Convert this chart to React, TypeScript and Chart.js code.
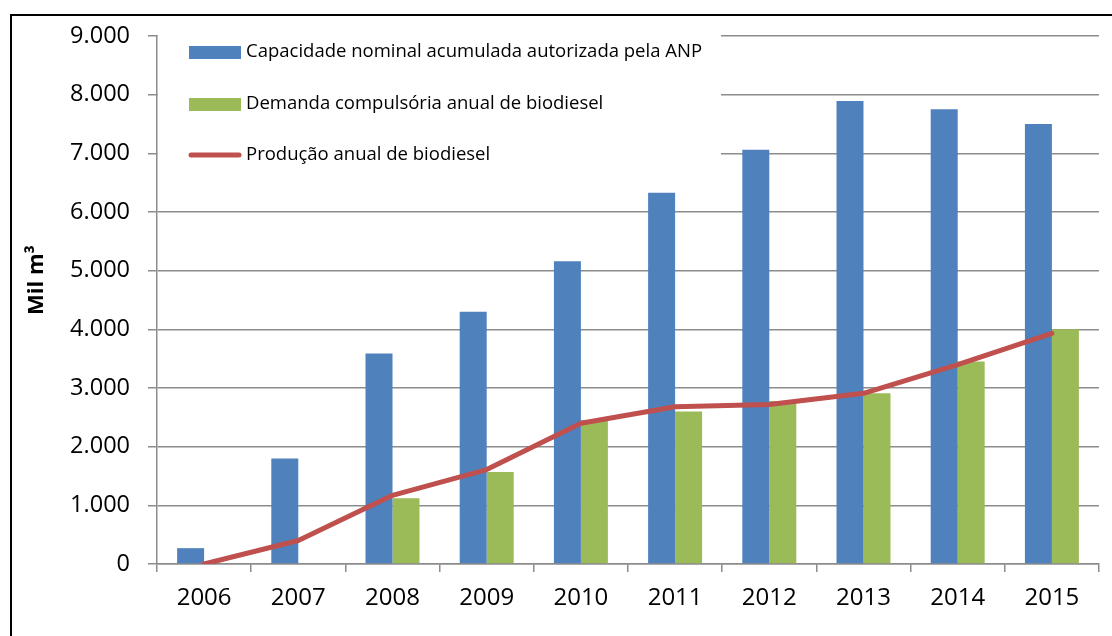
import React, { useEffect, useRef } from "react";
import { Chart, registerables } from "chart.js";

Chart.register(...registerables);

const years = ["2006", "2007", "2008", "2009", "2010", "2011", "2012", "2013", "2014", "2015"];
const capacidade = [270, 1800, 3590, 4300, 5160, 6330, 7060, 7890, 7750, 7500];
const demanda = [null, null, 1120, 1570, 2450, 2600, 2780, 2910, 3450, 4000];
const producao = [0, 400, 1170, 1610, 2400, 2680, 2720, 2910, 3400, 3930];

const labelCapacidade = "Capacidade nominal acumulada autorizada pela ANP";
const labelDemanda = "Demanda compulsória anual de biodiesel";
const labelProducao = "Produção anual de biodiesel";
const yTitle = "Mil m³";

const FONT = "'Open Sans', 'Noto Sans', sans-serif";
const GRID = "#8c8c8c";

const legendPlugin = {
  id: "customLegend",
  beforeDatasetsDraw(chart: any) {
    const ctx = chart.ctx;
    const area = chart.chartArea;
    ctx.save();
    ctx.fillStyle = "#ffffff";
    ctx.fillRect(area.left + 1, 20, 721 - area.left - 1, 160);
    const ds = chart.data.datasets;
    const rows = [52, 104, 155];
    ds.forEach((d: any, i: number) => {
      const y = rows[i];
      if (d.type === "line") {
        ctx.strokeStyle = d.borderColor;
        ctx.lineWidth = 5;
        ctx.lineCap = "round";
        ctx.beginPath();
        ctx.moveTo(191, y);
        ctx.lineTo(239, y);
        ctx.stroke();
      } else {
        ctx.fillStyle = d.backgroundColor;
        ctx.fillRect(189, y - 6, 52, 13);
      }
      ctx.fillStyle = "#000";
      ctx.font = `18.5px ${FONT}`;
      ctx.textBaseline = "middle";
      ctx.textAlign = "left";
      ctx.fillText(d.label, 246, y);
    });
    ctx.restore();
  },
  afterDraw(chart: any) {
    const ctx = chart.ctx;
    ctx.save();
    ctx.translate(37, 280);
    ctx.rotate(-Math.PI / 2);
    ctx.fillStyle = "#000";
    ctx.font = `bold 22px ${FONT}`;
    ctx.textAlign = "center";
    ctx.textBaseline = "middle";
    ctx.fillText(yTitle, 0, 0);
    ctx.restore();
  },
};

export default function App() {
  const ref = useRef<HTMLCanvasElement>(null);

  useEffect(() => {
    if (!ref.current) return;
    const chart = new Chart(ref.current, {
      type: "bar",
      data: {
        labels: years,
        datasets: [
          {
            type: "bar",
            label: labelCapacidade,
            data: capacidade,
            backgroundColor: "#4F81BD",
            order: 2,
          },
          {
            type: "bar",
            label: labelDemanda,
            data: demanda as any,
            backgroundColor: "#9BBB59",
            order: 2,
          },
          {
            type: "line",
            label: labelProducao,
            data: producao,
            borderColor: "#C0504D",
            backgroundColor: "#C0504D",
            borderWidth: 5,
            borderCapStyle: "round",
            borderJoinStyle: "round",
            pointRadius: 0,
            tension: 0,
            order: 1,
          } as any,
        ],
      },
      options: {
        animation: false,
        responsive: false,
        devicePixelRatio: 1,
        datasets: {
          bar: {
            categoryPercentage: 0.573,
            barPercentage: 1,
          },
        },
        layout: { padding: { top: 36, right: 13, left: 0, bottom: 0 } },
        plugins: {
          legend: { display: false },
          tooltip: { enabled: false },
        },
        scales: {
          x: {
            offset: true,
            grid: {
              display: true,
              drawOnChartArea: false,
              drawTicks: true,
              tickLength: 8,
              color: GRID,
              lineWidth: 1.5,
              offset: true,
            },
            border: { display: true, color: GRID, width: 1.5 },
            ticks: {
              color: "#000",
              font: { family: FONT, size: 24 },
              padding: 12,
              maxRotation: 0,
            },
            afterFit(scale: any) {
              scale.height = 72;
            },
          },
          y: {
            min: 0,
            max: 9000,
            grid: {
              color: GRID,
              lineWidth: 1.5,
              tickLength: 9,
              drawTicks: true,
            },
            border: { display: true, color: GRID, width: 1.5 },
            ticks: {
              stepSize: 1000,
              color: "#000",
              font: { family: FONT, size: 23.5 },
              padding: 18,
              callback: (v: any) => (v === 0 ? "0" : `${Math.round(v / 1000)}.000`),
            },
            afterFit(scale: any) {
              scale.width = 157;
            },
          },
        },
      },
      plugins: [legendPlugin],
    });
    return () => chart.destroy();
  }, []);

  return (
    <div
      style={{
        position: "fixed",
        left: 0,
        top: 0,
        width: 1112,
        height: 636,
        overflow: "hidden",
        background: "#fff",
      }}
    >
      <div
        style={{
          position: "absolute",
          left: 10,
          top: 14,
          width: 1300,
          height: 800,
          border: "2px solid #000",
        }}
      />
      <canvas
        ref={ref}
        width={1112}
        height={636}
        style={{ position: "absolute", left: 0, top: 0, display: "block" }}
      />
    </div>
  );
}
